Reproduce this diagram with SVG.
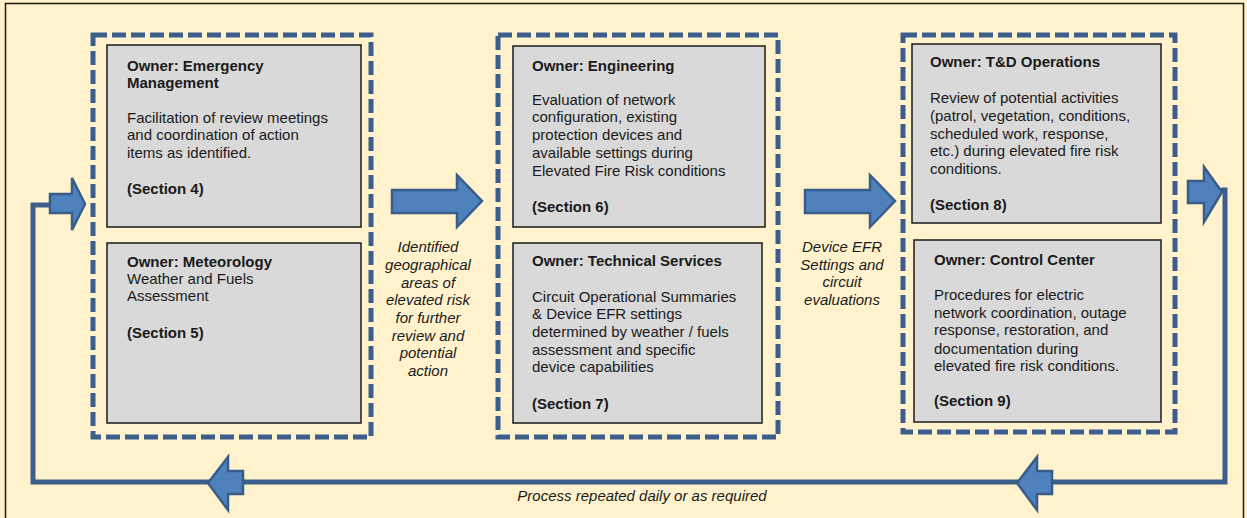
<svg xmlns="http://www.w3.org/2000/svg" width="1247" height="518" viewBox="0 0 1247 518">
<style>
.bg{fill:#FFF2CC}
.frame{fill:none;stroke:#1a1a1a;stroke-width:1.5}
.grp{fill:none;stroke:#3B5E8C;stroke-width:5;stroke-dasharray:14 5}
.box{fill:#D9D9D9;stroke:#1a1a1a;stroke-width:1.5}
.t{font-family:"Liberation Sans",Arial,sans-serif;font-size:15px;fill:#1a1a1a}
.b{font-weight:bold}
.i{font-family:"Liberation Sans",Arial,sans-serif;font-size:15px;font-style:italic;fill:#1a1a1a;text-anchor:middle}
.arr{fill:#4F81BD;stroke:#385D8A;stroke-width:2.5;stroke-linejoin:miter}
.line{fill:none;stroke:#3B5E8C;stroke-width:5;stroke-linejoin:miter}
</style>
<rect class="bg" x="0" y="0" width="1247" height="518"/>
<rect class="frame" x="5.5" y="3.5" width="1238" height="530"/>

<g id="connectors">
  <polyline class="line" points="50,205 33,205 33,482 1225,482 1225,190 1221,190"/>
  <polygon class="arr" points="50,194 72,194 72,178 85,204 72,230 72,213 50,213"/>
  <polygon class="arr" points="392,190 457,190 457,175 482,201 457,227 457,213 392,213"/>
  <polygon class="arr" points="805,190 870,190 870,175 895,201 870,227 870,213 805,213"/>
  <polygon class="arr" points="1188,181 1204,181 1204,167 1222,192 1204,222 1204,203 1188,203"/>
  <polygon class="arr" points="243,471 228,471 228,457 208,483 228,510 228,494 243,494"/>
  <polygon class="arr" points="1052,471 1037,471 1037,457 1017,483 1037,510 1037,494 1052,494"/>
  <text class="i" x="428"><tspan x="428" y="252">Identified</tspan><tspan x="428" y="270">geographical</tspan><tspan x="428" y="288">areas of</tspan><tspan x="428" y="305">elevated risk</tspan><tspan x="428" y="323">for further</tspan><tspan x="428" y="341">review and</tspan><tspan x="428" y="358">potential</tspan><tspan x="428" y="376">action</tspan></text>
  <text class="i" x="842"><tspan x="842" y="252">Device EFR</tspan><tspan x="842" y="270">Settings and</tspan><tspan x="842" y="287">circuit</tspan><tspan x="842" y="305">evaluations</tspan></text>
  <text class="i" x="642" y="501">Process repeated daily or as required</text>
</g>

<g id="group1">
  <rect class="grp" x="93" y="35" width="278" height="402"/>
  <g id="emergency-management">
    <rect class="box" x="107" y="45" width="254" height="182"/>
    <text class="t"><tspan class="b" x="127" y="71">Owner: Emergency</tspan><tspan class="b" x="127" y="88">Management</tspan><tspan x="127" y="123">Facilitation of review meetings</tspan><tspan x="127" y="140">and coordination of action</tspan><tspan x="127" y="158">items as identified.</tspan><tspan class="b" x="127" y="194">(Section 4)</tspan></text>
  </g>
  <g id="meteorology">
    <rect class="box" x="107" y="243" width="254" height="180"/>
    <text class="t"><tspan class="b" x="127" y="267">Owner: Meteorology</tspan><tspan x="127" y="284">Weather and Fuels</tspan><tspan x="127" y="301">Assessment</tspan><tspan class="b" x="127" y="338">(Section 5)</tspan></text>
  </g>
</g>

<g id="group2">
  <rect class="grp" x="498" y="35" width="280" height="402"/>
  <g id="engineering">
    <rect class="box" x="513" y="46" width="252" height="181"/>
    <text class="t"><tspan class="b" x="532" y="71">Owner: Engineering</tspan><tspan x="532" y="105">Evaluation of network</tspan><tspan x="532" y="122">configuration, existing</tspan><tspan x="532" y="140">protection devices and</tspan><tspan x="532" y="158">available settings during</tspan><tspan x="532" y="176">Elevated Fire Risk conditions</tspan><tspan class="b" x="532" y="212">(Section 6)</tspan></text>
  </g>
  <g id="technical-services">
    <rect class="box" x="513" y="243" width="249" height="180"/>
    <text class="t"><tspan class="b" x="532" y="266">Owner: Technical Services</tspan><tspan x="532" y="302">Circuit Operational Summaries</tspan><tspan x="532" y="319">&amp; Device EFR settings</tspan><tspan x="532" y="337">determined by weather / fuels</tspan><tspan x="532" y="355">assessment and specific</tspan><tspan x="532" y="372">device capabilities</tspan><tspan class="b" x="532" y="409">(Section 7)</tspan></text>
  </g>
</g>

<g id="group3">
  <rect class="grp" x="903" y="35" width="272" height="397"/>
  <g id="td-operations">
    <rect class="box" x="912" y="44" width="249" height="179"/>
    <text class="t"><tspan class="b" x="930" y="67">Owner: T&amp;D Operations</tspan><tspan x="930" y="103">Review of potential activities</tspan><tspan x="930" y="121">(patrol, vegetation, conditions,</tspan><tspan x="930" y="139">scheduled work, response,</tspan><tspan x="930" y="156">etc.) during elevated fire risk</tspan><tspan x="930" y="174">conditions.</tspan><tspan class="b" x="930" y="210">(Section 8)</tspan></text>
  </g>
  <g id="control-center">
    <rect class="box" x="914" y="240" width="247" height="182"/>
    <text class="t"><tspan class="b" x="934" y="265">Owner: Control Center</tspan><tspan x="934" y="300">Procedures for electric</tspan><tspan x="934" y="318">network coordination, outage</tspan><tspan x="934" y="335">response, restoration, and</tspan><tspan x="934" y="354">documentation during</tspan><tspan x="934" y="371">elevated fire risk conditions.</tspan><tspan class="b" x="934" y="406">(Section 9)</tspan></text>
  </g>
</g>
</svg>
